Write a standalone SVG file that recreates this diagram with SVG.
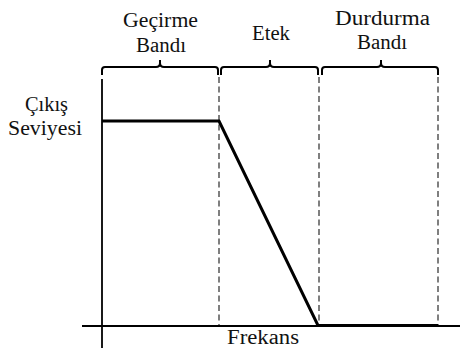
<svg xmlns="http://www.w3.org/2000/svg" width="461" height="349" viewBox="0 0 461 349">
<style>
text{font-family:"Liberation Serif","DejaVu Serif",serif;font-size:20.5px;fill:#111;text-anchor:middle}
.brace{fill:none;stroke:#000;stroke-width:2}
.dash{fill:none;stroke:#7f7f7f;stroke-width:2;stroke-dasharray:6 3.5}
.axis{fill:none;stroke:#000;stroke-width:1.8}
.signal{fill:none;stroke:#000;stroke-width:3;stroke-linejoin:miter}
</style>
<rect width="461" height="349" fill="#fff"/>
<g id="labels">
<g id="pass-label"><text x="160.5" y="27" textLength="75" lengthAdjust="spacingAndGlyphs">Geçirme</text><text x="161" y="52" textLength="50" lengthAdjust="spacingAndGlyphs">Bandı</text></g>
<g id="transition-label"><text x="271" y="40" textLength="38" lengthAdjust="spacingAndGlyphs">Etek</text></g>
<g id="stop-label"><text x="382.5" y="25" textLength="95" lengthAdjust="spacingAndGlyphs">Durdurma</text><text x="382" y="49" textLength="50" lengthAdjust="spacingAndGlyphs">Bandı</text></g>
<g id="y-label"><text x="46.5" y="111" textLength="43" lengthAdjust="spacingAndGlyphs">Çıkış</text><text x="45" y="135" textLength="74" lengthAdjust="spacingAndGlyphs">Seviyesi</text></g>
<g id="x-label"><text x="263" y="344" textLength="72" lengthAdjust="spacingAndGlyphs">Frekans</text></g>
</g>
<g id="braces">
<path class="brace" d="M102,75 V70 Q102,67 105,67 H156 Q160,67 160,63 V60 M160,63 Q160,67 164,67 H215 Q218,67 218,70 V75"/>
<path class="brace" d="M221,75 V70 Q221,67 224,67 H266 Q270,67 270,63 V60 M270,63 Q270,67 274,67 H315 Q318,67 318,70 V75"/>
<path class="brace" d="M322,75 V70 Q322,67 325,67 H377 Q381,67 381,63 V60 M381,63 Q381,67 385,67 H435 Q438,67 438,70 V75"/>
</g>
<g id="connectors">
<line class="dash" x1="219" y1="77" x2="219" y2="326"/>
<line class="dash" x1="319" y1="77" x2="319" y2="326"/>
<line class="dash" x1="438" y1="77" x2="438" y2="326"/>
<line class="axis" x1="102" y1="79" x2="102" y2="348"/>
<line class="axis" x1="82" y1="326" x2="460" y2="326"/>
<polyline class="signal" points="102,121 219,121 318,325.5 438,325.5"/>
</g>
</svg>
